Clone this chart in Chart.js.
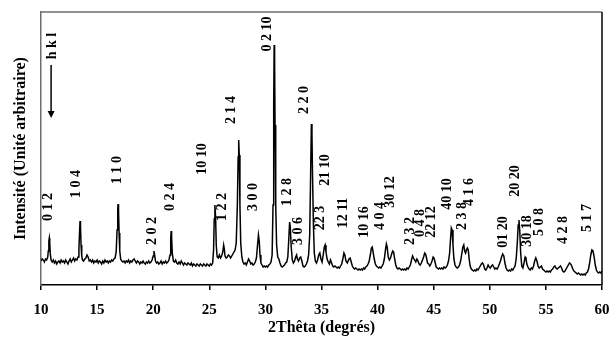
<!DOCTYPE html>
<html>
<head>
<meta charset="utf-8">
<script src="https://cdn.jsdelivr.net/npm/chart.js@4/dist/chart.umd.min.js"></script>
<style>
  html, body { margin:0; padding:0; background:#fff; }
  #wrap { width:610px; height:338px; }
</style>
</head>
<body>
<div id="wrap"><canvas id="xrd" width="610" height="338"></canvas></div>
<script>
// ── data: [2θ, intensity (arb.)] ─────────────────────────────────────────
const scanLow = [
  [10.0,24],[10.1,26],[10.2,25],[10.3,23],[10.4,26],[10.5,25],[10.6,28],[10.65,34],[10.7,44],[10.74,47],
  [10.78,42],[10.83,31],[10.9,25],[11.0,23],[11.1,25],[11.2,22],[11.3,24],[11.4,21],[11.5,23],[11.6,24],
  [11.7,22],[11.8,25],[11.9,23],[12.0,24],[12.1,22],[12.2,25],[12.3,23],[12.4,21],[12.5,24],[12.6,26],
  [12.7,23],[12.8,25],[12.9,27],[13.0,24],[13.1,26],[13.2,25],[13.3,28],[13.38,36],[13.44,54],[13.48,64],
  [13.52,58],[13.57,40],[13.63,29],[13.7,25],[13.8,24],[13.9,26],[14.0,27],[14.1,30],[14.2,28],[14.3,24],
  [14.4,25],[14.5,23],[14.6,25],[14.7,22],[14.8,24],[14.9,23],[15.0,25],[15.1,22],[15.2,24],[15.3,23],
  [15.4,21],[15.5,24],[15.6,22],[15.7,25],[15.8,23],[15.9,24],[16.0,22],[16.1,24],[16.2,23],[16.3,25],
  [16.4,24],[16.5,26],[16.6,27],[16.7,33],[16.78,55],[16.84,76],[16.87,81],[16.91,74],[16.96,52],[17.02,34],
  [17.1,26],[17.2,24],[17.3,23],[17.4,24],[17.5,22],[17.6,24],[17.7,23],[17.8,25],[17.9,22],[18.0,24],
  [18.1,23],[18.2,25],[18.3,26],[18.4,24],[18.5,22],[18.6,24],[18.7,23],[18.8,21],[18.9,23],[19.0,22],
  [19.1,24],[19.2,22],[19.3,21],[19.4,23],[19.5,22],[19.6,24],[19.7,22],[19.8,23],[19.9,25],[20.0,29],
  [20.07,34],[20.13,30],[20.2,24],[20.3,22],[20.4,23],[20.5,21],[20.6,22],[20.7,24],[20.8,21],[20.9,23],
  [21.0,22],[21.1,24],[21.2,22],[21.3,23],[21.4,25],[21.5,30],[21.56,46],[21.6,54],[21.64,48],[21.7,32],
  [21.8,24],[21.9,23],[22.0,25],[22.1,22],[22.2,21],[22.3,23],[22.4,21],[22.5,24],[22.6,22],[22.7,20],
  [22.8,22],[22.9,21],[23.0,20],[23.1,22],[23.2,21],[23.3,20],[23.4,22],[23.5,19],[23.6,21],[23.7,20],
  [23.8,19],[23.9,21],[24.0,20],[24.1,19],[24.2,21],[24.3,20],[24.4,19],[24.5,21],[24.6,20],[24.7,19],
  [24.8,21],[24.9,20],[25.0,19],[25.1,21],[25.2,20],[25.3,22]
];
const scanMid = [
  [25.38,35],[25.44,66],[25.5,80],[25.56,68],[25.62,40],[25.7,28],[25.8,27],[25.9,30],[26.0,27],[26.1,29],
  [26.2,33],[26.28,40],[26.34,36],[26.4,29],[26.5,27],[26.6,28],[26.7,30],[26.8,29],[26.9,27],[27.0,29],
  [27.1,31],[27.2,33],[27.3,35],[27.4,42],[27.5,80],[27.57,128],[27.62,145],[27.67,130],[27.73,80],[27.8,42],
  [27.9,28],[28.0,23],[28.1,21],[28.2,22],[28.3,20],[28.4,23],[28.5,26],[28.6,24],[28.7,21],[28.8,22],
  [28.9,20],[29.0,21],[29.1,23],[29.2,27],[29.3,40],[29.38,50],[29.45,44],[29.52,30],[29.6,22],[29.7,20],
  [29.8,18],[29.9,19],[30.0,18],[30.1,19],[30.2,18],[30.3,20],[30.4,21],[30.5,23],[30.6,30],[30.68,80],
  [30.74,180],[30.78,240],[30.82,225],[30.86,160],[30.92,80],[31.0,40],[31.1,28],[31.2,26],[31.3,22],[31.4,19],
  [31.5,18],[31.6,19],[31.7,20],[31.8,22],[31.9,23],[32.0,28],[32.08,45],[32.16,63],[32.22,58],[32.3,38],
  [32.4,25],[32.5,22],[32.6,24],[32.7,28],[32.78,30],[32.85,26],[32.95,24],[33.05,27],[33.15,28],[33.25,24],
  [33.35,19],[33.45,18],[33.55,19],[33.65,21],[33.75,24],[33.85,30],[33.95,50],[34.03,110],[34.1,161],[34.15,150],
  [34.2,110],[34.28,60],[34.36,32],[34.45,24],[34.55,22],[34.65,25],[34.75,30],[34.85,32],[34.95,26],[35.05,23],
  [35.15,30],[35.25,38],[35.32,40],[35.4,33],[35.5,26],[35.6,23],[35.7,21],[35.8,25],[35.9,22],[36.0,19],
  [36.1,18],[36.2,19],[36.3,18],[36.4,17],[36.5,18],[36.6,17],[36.7,19],[36.8,21],[36.9,26],[37.0,32],
  [37.08,30],[37.18,24],[37.3,22],[37.45,26],[37.55,27],[37.65,23],[37.75,19],[37.85,17],[37.95,16],[38.05,17],
  [38.15,16],[38.25,15],[38.35,16],[38.45,15],[38.55,16],[38.65,15],[38.75,17],[38.85,16],[38.95,18],[39.05,19],
  [39.15,21],[39.25,24],[39.35,30],[39.45,37],[39.52,38],[39.6,33],[39.7,26],[39.8,21],[39.9,19],[40.0,18]
];
const scanHigh = [
  [40.1,17],[40.2,18],[40.3,17],[40.4,19],[40.5,21],[40.6,26],[40.7,35],[40.78,41],[40.85,38],[40.95,28],
  [41.05,25],[41.15,27],[41.25,31],[41.35,34],[41.43,33],[41.52,26],[41.62,20],[41.72,17],[41.82,16],[41.92,17],
  [42.02,16],[42.12,15],[42.22,16],[42.32,15],[42.42,16],[42.52,15],[42.62,17],[42.72,16],[42.82,18],[42.92,20],
  [43.02,25],[43.12,29],[43.2,27],[43.3,25],[43.4,23],[43.5,26],[43.6,24],[43.7,21],[43.8,20],[43.9,22],
  [44.0,25],[44.1,28],[44.2,32],[44.28,31],[44.36,27],[44.45,22],[44.55,21],[44.65,19],[44.75,21],[44.85,24],
  [44.95,28],[45.03,27],[45.12,23],[45.22,18],[45.32,17],[45.42,16],[45.52,17],[45.62,16],[45.72,17],[45.82,16],
  [45.92,18],[46.02,17],[46.12,18],[46.22,20],[46.32,24],[46.42,32],[46.5,46],[46.57,57],[46.64,55],[46.72,40],
  [46.8,26],[46.9,20],[47.0,18],[47.1,17],[47.2,18],[47.3,20],[47.4,24],[47.5,31],[47.6,38],[47.68,40],
  [47.76,34],[47.84,32],[47.92,35],[48.0,37],[48.08,35],[48.16,26],[48.25,19],[48.35,16],[48.45,15],[48.55,14],
  [48.65,15],[48.75,14],[48.85,16],[48.95,15],[49.05,17],[49.15,19],[49.25,21],[49.35,22],[49.45,20],[49.55,16],
  [49.65,15],[49.75,17],[49.85,20],[49.95,18],[50.05,17],[50.15,19],[50.25,20],[50.35,18],[50.45,16],[50.55,17],
  [50.65,16],[50.75,18],[50.85,21],[50.95,24],[51.05,28],[51.15,31],[51.25,29],[51.35,22],[51.45,17],[51.55,15],
  [51.65,14],[51.75,15],[51.85,14],[51.95,16],[52.05,15],[52.15,17],[52.25,19],[52.35,26],[52.45,42],[52.53,60],
  [52.6,65],[52.67,54],[52.75,32],[52.85,19],[52.95,17],[53.05,22],[53.15,28],[53.22,27],[53.3,21],[53.4,18],
  [53.5,16],[53.6,15],[53.7,17],[53.8,16],[53.9,19],[54.0,24],[54.1,27],[54.2,24],[54.3,19],[54.4,17],
  [54.5,18],[54.6,19],[54.7,16],[54.8,15],[54.9,14],[55.0,13],[55.1,14],[55.2,13],[55.3,14],[55.4,13],
  [55.5,15],[55.6,16],[55.7,18],[55.8,19],[55.9,17],[56.0,16],[56.1,17],[56.2,18],[56.3,19],[56.4,17],
  [56.5,14],[56.6,13],[56.7,14],[56.8,16],[56.9,18],[57.0,20],[57.1,22],[57.2,21],[57.3,19],[57.4,16],
  [57.5,14],[57.6,13],[57.7,12],[57.8,11],[57.9,12],[58.0,11],[58.1,10],[58.2,11],[58.3,10],[58.4,11],
  [58.5,10],[58.6,12],[58.7,13],[58.8,16],[58.9,22],[59.0,30],[59.1,35],[59.2,34],[59.3,28],[59.4,20],
  [59.5,15],[59.6,13],[59.7,12],[59.8,13],[59.9,12],[60.0,14]
];

// Miller indices written above the peaks (rotated), with their 2θ and height
const hklText = ['0 1 2','1 0 4','1 1 0','2 0 2','0 2 4','10 10','1 2 2','2 1 4','3 0 0','0 2 10',
                 '1 2 8','3 0 6','2 2 0','22 3','21 10','12 11','10 16','4 0 4','30 12','2 3 2',
                 '0 4 8','22 12','40 10','2 3 8','4 1 6','01 20','20 20','30 18','5 0 8','4 2 8','5 1 7'];
const hklPos  = [10.62,13.12,16.77,19.89,21.5,24.35,26.13,26.93,28.89,30.14,
                 31.93,32.9,33.44,34.93,35.31,36.92,38.79,40.21,41.1,42.89,
                 43.78,44.76,46.19,47.52,48.15,51.18,52.25,53.32,54.39,56.52,58.66];
const hklY    = [78,101,115,54,88,126,78,175,88,251,
                 93,54,185,67,115,72,63,69,93,54,
                 62,63,91,69,93,53,104,54,63,55,67];

const xTicks = [10,15,20,25,30,35,40,45,50,55,60];
const X_MIN = 10, X_MAX = 60, Y_MAX = 273;

const SERIF = '"Liberation Serif", "Times New Roman", serif';

// ── plugins: frame on top/right, hkl labels, hkl arrow ───────────────────
const framePlugin = {
  id:'frame',
  afterDatasetsDraw(chart) {
    const {ctx, chartArea:a} = chart;
    ctx.save();
    ctx.lineWidth = 1.5;
    ctx.strokeStyle = '#6d6d6d';
    ctx.beginPath(); ctx.moveTo(a.left, a.top); ctx.lineTo(a.right, a.top); ctx.stroke();
    ctx.strokeStyle = '#000';
    ctx.beginPath(); ctx.moveTo(a.right, a.top); ctx.lineTo(a.right, a.bottom); ctx.stroke();
    ctx.restore();
  }
};

const hklPlugin = {
  id:'hkl',
  afterDatasetsDraw(chart) {
    const {ctx, scales:{x, y}} = chart;
    ctx.save();
    ctx.fillStyle = '#000';
    ctx.font = 'bold 14px ' + SERIF;
    ctx.textAlign = 'center';
    ctx.textBaseline = 'middle';
    hklText.forEach((t, i) => {
      ctx.save();
      ctx.translate(x.getPixelForValue(hklPos[i]), y.getPixelForValue(hklY[i]));
      ctx.rotate(-Math.PI / 2);
      ctx.fillText(t, 0, 0);
      ctx.restore();
    });
    // "h k l" marker with arrow pointing down
    const ax = x.getPixelForValue(10.9);
    ctx.save();
    ctx.translate(x.getPixelForValue(11.05), y.getPixelForValue(239));
    ctx.rotate(-Math.PI / 2);
    ctx.fillText('h k l', 0, 0);
    ctx.restore();
    const y0 = y.getPixelForValue(220), y1 = y.getPixelForValue(167);
    ctx.strokeStyle = '#000'; ctx.lineWidth = 1.5;
    ctx.beginPath(); ctx.moveTo(ax, y0); ctx.lineTo(ax, y1 - 6); ctx.stroke();
    ctx.beginPath(); ctx.moveTo(ax - 3.5, y1 - 7); ctx.lineTo(ax + 3.5, y1 - 7); ctx.lineTo(ax, y1); ctx.closePath(); ctx.fill();
    ctx.restore();
  }
};

new Chart(document.getElementById('xrd'), {
  type:'line',
  data:{ datasets:[{
    data: scanLow.concat(scanMid, scanHigh),
    borderColor:'#000', borderWidth:1.5, pointRadius:0, tension:0, fill:false,
  }]},
  options:{
    responsive:false, animation:false, events:[],
    layout:{ padding:{ top:12, right:0, left:0, bottom:0 } },
    plugins:{ legend:{display:false}, tooltip:{enabled:false} },
    scales:{
      x:{
        type:'linear', min:X_MIN, max:X_MAX,
        afterFit: s => { s.height = 53; s.paddingRight = 8; },
        afterBuildTicks: s => { s.ticks = xTicks.map(v => ({value:v})); },
        border:{ color:'#000', width:1.5 },
        grid:{ drawOnChartArea:false, drawTicks:true, tickLength:5, color:'#000', lineWidth:1.5 },
        ticks:{ color:'#000', padding:11, maxRotation:0, font:{ family:SERIF, size:15, weight:'bold' } },
        title:{ display:true, text:'2Thêta (degrés)', color:'#000', padding:{top:0,bottom:1},
                font:{ family:SERIF, size:16, weight:'bold' } },
      },
      y:{
        min:0, max:Y_MAX,
        afterFit: s => { s.width = 41; },
        border:{ color:'#6d6d6d', width:1.5 },
        grid:{ display:false },
        ticks:{ display:false },
        title:{ display:true, text:'Intensité (Unité arbitraire)', color:'#000', padding:{top:11,bottom:0},
                font:{ family:SERIF, size:16, weight:'bold' } },
      },
    },
  },
  plugins:[framePlugin, hklPlugin],
});
</script>
</body>
</html>
